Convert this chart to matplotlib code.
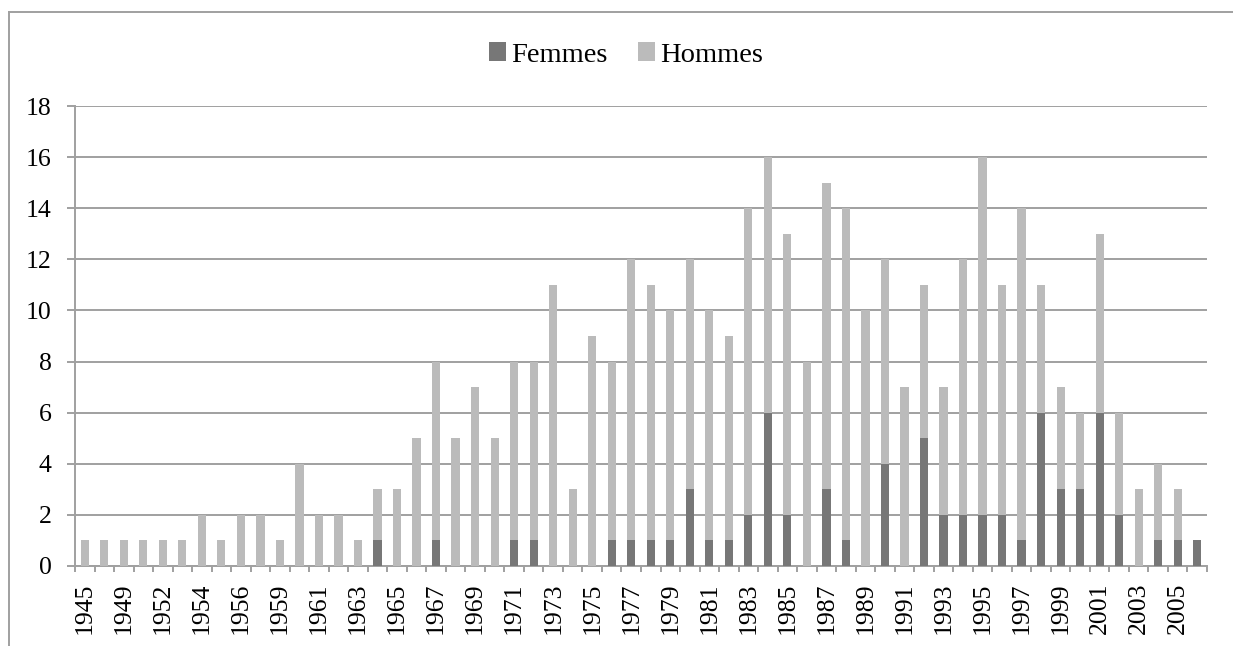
import matplotlib
matplotlib.use("Agg")
from matplotlib import pyplot as plt
from matplotlib.lines import Line2D
import numpy as np

# categories (years with data; early years irregular)
years = ["1945", "1947", "1949", "1950", "1952", "1953", "1954", "1955",
         "1956", "1958", "1959", "1960", "1961", "1962", "1963", "1964"] + \
        [str(y) for y in range(1965, 2007)]

femmes = [0, 0, 0, 0, 0, 0, 0, 0, 0, 0, 0, 0, 0, 0, 0, 1,
          0, 0, 1, 0, 0, 0, 1, 1, 0, 0, 0, 1, 1, 1, 1, 3, 1, 1, 2, 6,
          2, 0, 3, 1, 0, 4, 0, 5, 2, 2, 2, 2, 1, 6, 3, 3, 6, 2, 0, 1, 1, 1]
totals = [1, 1, 1, 1, 1, 1, 2, 1, 2, 2, 1, 4, 2, 2, 1, 3,
          3, 5, 8, 5, 7, 5, 8, 8, 11, 3, 9, 8, 12, 11, 10, 12, 10, 9, 14, 16,
          13, 8, 15, 14, 10, 12, 7, 11, 7, 12, 16, 11, 14, 11, 7, 6, 13, 6, 3, 4, 3, 1]
hommes = [t - f for t, f in zip(totals, femmes)]

plt.rcParams['font.family'] = ['Liberation Serif', 'DejaVu Serif']
grey = '#a0a0a0'

fig = plt.figure(figsize=(12.33, 6.46), dpi=100)
ax = fig.add_axes([75 / 1233, 1 - 566 / 646, (1207 - 75) / 1233, (566 - 106) / 646])

x = np.arange(len(years))
b1 = ax.bar(x, femmes, width=0.42, color='#777777', label='Femmes', zorder=3)
b2 = ax.bar(x, hommes, width=0.42, bottom=femmes, color='#bbbbbb', label='Hommes', zorder=3)

ax.set_ylim(0, 18)
ax.set_xlim(-0.5, len(years) - 0.5)
ax.set_yticks(range(0, 19, 2))
ax.yaxis.grid(True, color=grey, linewidth=1.4)
ax.set_axisbelow(True)

# tick marks at category boundaries, labels every other category
ax.set_xticks(np.arange(-0.5, len(years)))
ax.set_xticklabels([])
ax.set_xticks(x[::2], minor=True)
ax.set_xticklabels(years[::2], minor=True, rotation=90)
ax.tick_params(axis='x', which='major', length=4.5, width=1.4, color=grey, direction='out')
ax.tick_params(axis='x', which='minor', length=0, labelsize=18.5, pad=12)
ax.tick_params(axis='y', length=6, width=1.4, color=grey, labelsize=18.5, pad=11)

for s in ['top', 'right']:
    ax.spines[s].set_visible(False)
for s in ['left', 'bottom']:
    ax.spines[s].set_color(grey)
    ax.spines[s].set_linewidth(1.4)

fig.legend(handles=[b1, b2], loc='center', bbox_to_anchor=(626 / 1233, 1 - 55 / 646),
           ncol=2, frameon=False, fontsize=20.5, handlelength=0.6, handleheight=0.6,
           handletextpad=0.15, columnspacing=1.1)

# outer chart border (left and top edges visible)
fig.add_artist(Line2D([9 / 1233, 9 / 1233], [0, 1 - 12 / 646], color=grey, linewidth=1.4))
fig.add_artist(Line2D([9 / 1233, 1], [1 - 12 / 646, 1 - 12 / 646], color=grey, linewidth=1.4))

fig.savefig('out.png', dpi=100)
